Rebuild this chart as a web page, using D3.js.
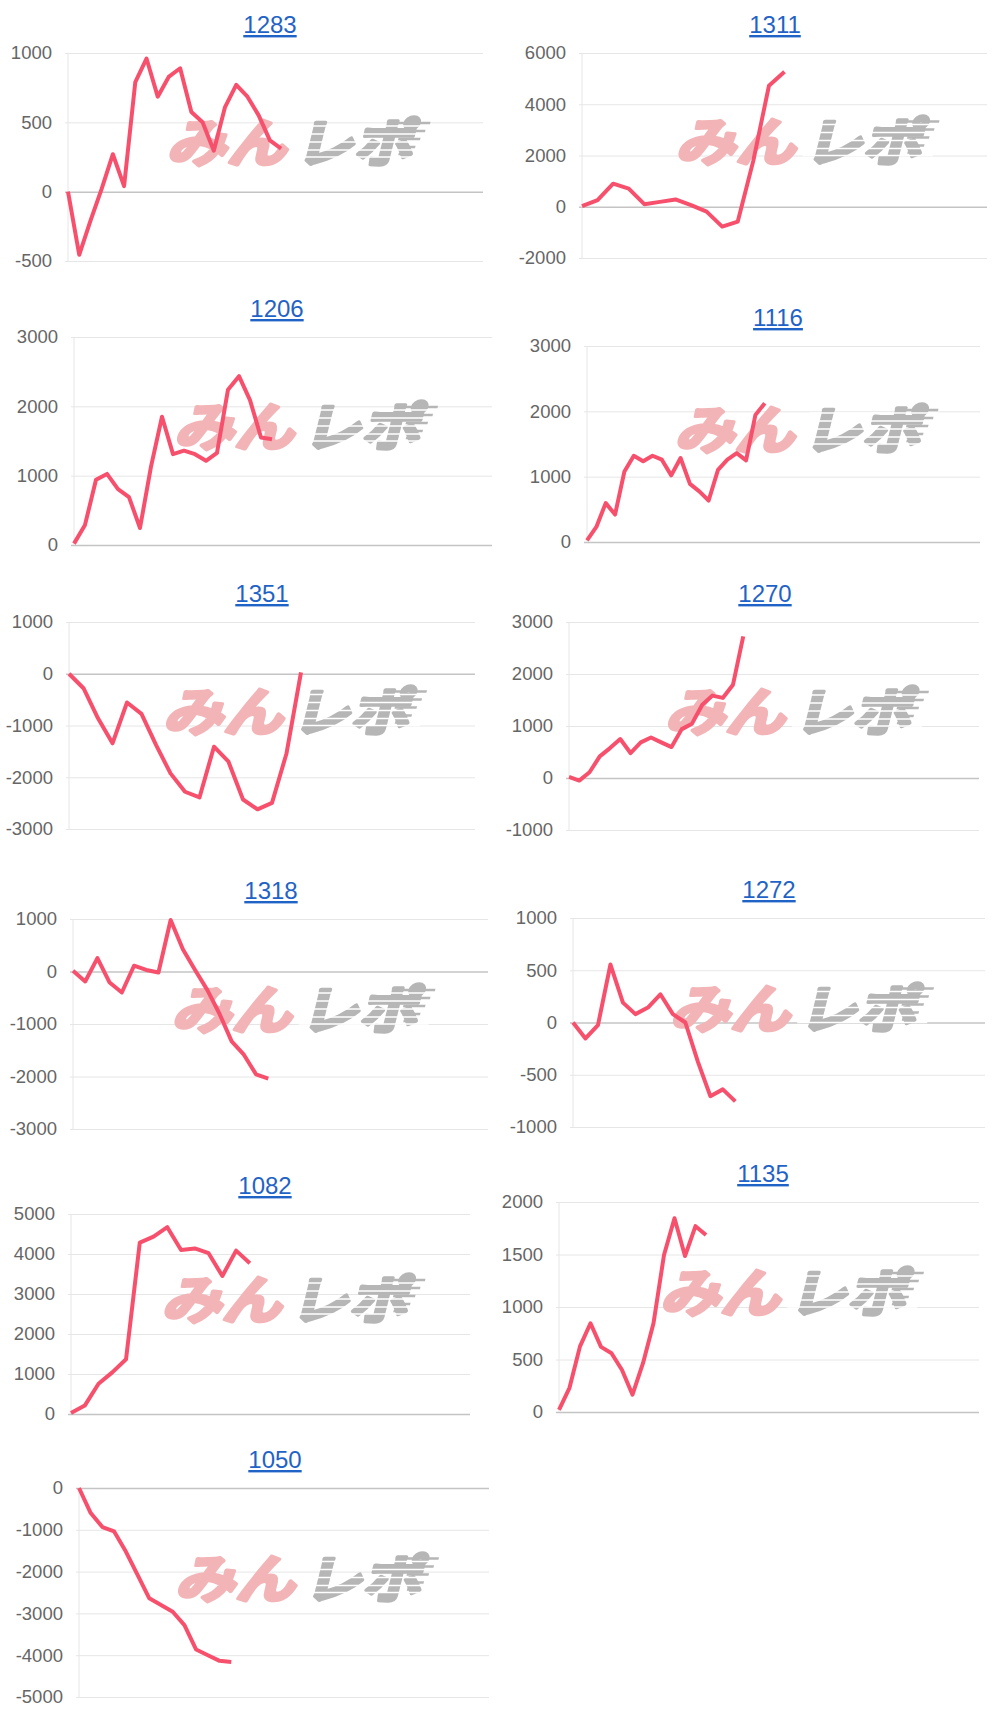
<!DOCTYPE html>
<html>
<head>
<meta charset="utf-8">
<script src="https://cdn.jsdelivr.net/npm/d3@7"></script>
<style>
  body { margin: 0; background: #fff; }
  svg { display: block; font-family: "Liberation Sans", Arial, Helvetica, sans-serif; }
</style>
</head>
<body>
<svg id="chart"></svg>
<script>
// panel titles (store ids) in reading order
const titles = ["1283", "1311", "1206", "1116", "1351", "1270", "1318", "1272", "1082", "1135", "1050"];

// balance series per panel
const v1283 = [0, -455, -210, 20, 270, 40, 790, 960, 685, 830, 890, 575, 500, 295, 610, 770, 685, 550, 370, 310];
const v1311 = [25, 260, 900, 710, 100, 190, 285, 65, -190, -775, -580, 1800, 4720, 5265];
const v1206 = [20, 290, 940, 1025, 805, 690, 245, 1130, 1850, 1310, 1360, 1310, 1215, 1330, 2240, 2435, 2090, 1550, 1525];
const v1116 = [25, 230, 595, 420, 1080, 1320, 1235, 1320, 1260, 1020, 1285, 890, 775, 635, 1105, 1260, 1360, 1250, 1945, 2125];
const v1351 = [0, -280, -860, -1345, -555, -775, -1375, -1925, -2280, -2390, -1410, -1700, -2430, -2620, -2495, -1540, 25];
const v1270 = [20, -50, 110, 415, 575, 750, 480, 685, 780, 685, 595, 940, 1045, 1410, 1585, 1540, 1795, 2725];
const v1318 = [15, -190, 255, -210, -400, 110, 30, -20, 980, 425, 30, -350, -805, -1330, -1585, -1960, -2040];
const v1272 = [0, -153, -25, 555, 190, 80, 143, 270, 80, 0, -375, -705, -640, -755];
const v1082 = [25, 210, 755, 1040, 1370, 4285, 4435, 4670, 4100, 4140, 4020, 3450, 4085, 3770];
const v1135 = [20, 230, 625, 845, 620, 560, 400, 165, 465, 845, 1495, 1845, 1485, 1770, 1685];
const v1050 = [0, -600, -935, -1040, -1520, -2080, -2640, -2800, -2960, -3280, -3865, -4000, -4135, -4160];
const series = [v1283, v1311, v1206, v1116, v1351, v1270, v1318, v1272, v1082, v1135, v1050];

// number of x slots on each chart (data only fills part of it)
const xSlots = [37, 26, 38, 42, 28, 40, 34, 33, 29, 40, 35];

// y tick values per panel
const yTicks = [
  [-500, 0, 500, 1000],
  [-2000, 0, 2000, 4000, 6000],
  [0, 1000, 2000, 3000],
  [0, 1000, 2000, 3000],
  [-3000, -2000, -1000, 0, 1000],
  [-1000, 0, 1000, 2000, 3000],
  [-3000, -2000, -1000, 0, 1000],
  [-1000, -500, 0, 500, 1000],
  [0, 1000, 2000, 3000, 4000, 5000],
  [0, 500, 1000, 1500, 2000],
  [-5000, -4000, -3000, -2000, -1000, 0]
];

// plot boxes [left, top, right, bottom, titleX]
const boxes = [
  [68, 53, 483, 261, 270],
  [582, 53, 987, 258, 775],
  [74, 337, 492, 545, 277],
  [587, 346, 980, 542, 778],
  [69, 622, 475, 829, 262],
  [569, 622, 979, 830, 765],
  [73, 919, 488, 1129, 271],
  [573, 918, 985, 1127, 769],
  [71, 1214, 470, 1414, 265],
  [559, 1202, 979, 1412, 763],
  [79, 1488, 489, 1697, 275]
];

const svg = d3.select("#chart")
  .attr("width", 1000)
  .attr("height", 1718);

titles.forEach((t, k) => {
  const [left, top, right, bottom, titleX] = boxes[k];
  const ticks = yTicks[k];
  const data = series[k];

  const x = d3.scaleLinear().domain([0, xSlots[k]]).range([left, right]);
  const y = d3.scaleLinear().domain(d3.extent(ticks)).range([bottom, top]);

  const g = svg.append("g");

  // title (link style)
  g.append("text")
    .attr("x", titleX)
    .attr("y", top - 20)
    .attr("text-anchor", "middle")
    .attr("fill", "#1f63c6")
    .style("font-size", "24px")
    .style("text-decoration", "underline")
    .text(t);

  // y axis with grid lines
  g.append("g")
    .attr("transform", `translate(${left - 3},0)`)
    .call(d3.axisLeft(y).tickValues(ticks).tickFormat(d => String(d))
      .tickSize(-(right - left + 3)).tickPadding(13))
    .call(a => a.select(".domain").remove())
    .call(a => a.selectAll(".tick line")
      .attr("stroke", d => d === 0 ? "#c4c4c4" : "#e6e6e6")
      .attr("stroke-width", d => d === 0 ? 1.5 : 1))
    .call(a => a.selectAll(".tick text")
      .attr("fill", "#666")
      .style("font-size", "18.5px")
      .style("font-family", "'Liberation Sans', Arial, sans-serif"));

  // left axis line
  g.append("line")
    .attr("x1", x(0)).attr("x2", x(0))
    .attr("y1", y(ticks[ticks.length - 1])).attr("y2", y(ticks[0]))
    .attr("stroke", "#e6e6e6");

  // watermark
  const wm = g.append("g")
    .attr("transform", `translate(${(left + right) / 2 + 17},${(top + bottom) / 2 + 5}) skewX(-14)`);
  wm.append("text")
    .attr("x", -126).attr("y", 0)
    .attr("textLength", 120).attr("lengthAdjust", "spacingAndGlyphs")
    .attr("fill", "#f2b4b6")
    .attr("stroke", "#f2b4b6")
    .attr("stroke-width", 3.5)
    .attr("stroke-linejoin", "round")
    .style("font-family", "'Noto Sans CJK JP', sans-serif")
    .style("font-weight", 700)
    .style("font-size", "52px")
    .text("みん");
  wm.append("text")
    .attr("x", 2).attr("y", 0)
    .attr("textLength", 118).attr("lengthAdjust", "spacingAndGlyphs")
    .attr("fill", "#b6b6b6")
    .attr("stroke", "#b6b6b6")
    .attr("stroke-width", 3.5)
    .attr("stroke-linejoin", "round")
    .style("font-family", "'Noto Sans CJK JP', sans-serif")
    .style("font-weight", 700)
    .style("font-size", "52px")
    .text("レポ");
  // speed stripes through the grey part
  [-36, -28, -20, -12, -5].forEach((dy, i) => {
    wm.append("line")
      .attr("x1", 0).attr("x2", 130)
      .attr("y1", dy).attr("y2", dy)
      .attr("stroke", "#fff")
      .attr("stroke-width", 1.5);
    wm.append("line")
      .attr("x1", 96 + i * 2).attr("x2", 128 - i * 3)
      .attr("y1", dy - 3).attr("y2", dy - 3)
      .attr("stroke", "#b6b6b6")
      .attr("stroke-width", 2.4);
  });

  // balance line
  const line = d3.line()
    .x((d, i) => x(i))
    .y(d => y(d));

  g.append("path")
    .datum(data)
    .attr("fill", "none")
    .attr("stroke", "#f7506d")
    .attr("stroke-width", 4)
    .attr("stroke-linejoin", "round")
    .attr("d", line);
});
</script>
</body>
</html>
